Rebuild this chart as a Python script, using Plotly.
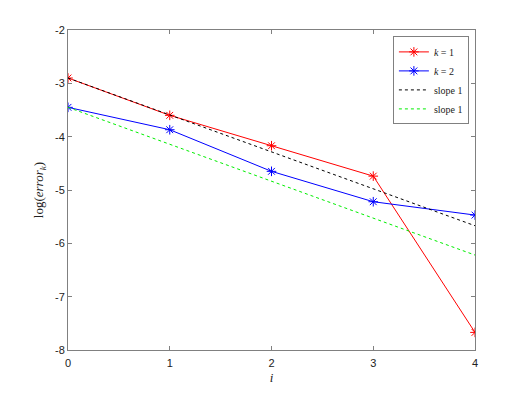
import plotly.graph_objects as go

# data
i_vals = [0, 1, 2, 3, 4]
err_k1 = [-2.90, -3.60, -4.17, -4.74, -7.67]
err_k2 = [-3.45, -3.87, -4.65, -5.22, -5.47]
slope_k1 = [-2.90, -3.59, -4.29, -4.98, -5.67]
slope_k2 = [-3.45, -4.14, -4.84, -5.53, -6.22]

fig = go.Figure()

fig.add_trace(go.Scatter(x=i_vals, y=err_k1, mode='lines+markers', name='<i>k</i> = 1',
                         line=dict(color='red', width=1),
                         marker=dict(symbol='asterisk-open', size=8, color='red',
                                     line=dict(color='red', width=1))))
fig.add_trace(go.Scatter(x=i_vals, y=err_k2, mode='lines+markers', name='<i>k</i> = 2',
                         line=dict(color='blue', width=1),
                         marker=dict(symbol='asterisk-open', size=8, color='blue',
                                     line=dict(color='blue', width=1))))
fig.add_trace(go.Scatter(x=i_vals, y=slope_k1, mode='lines', name='slope 1',
                         line=dict(color='black', width=1, dash='dot')))
fig.add_trace(go.Scatter(x=i_vals, y=slope_k2, mode='lines', name='slope 1',
                         line=dict(color='#00ee00', width=1, dash='dot')))

axis_style = dict(showline=True, linecolor='#808080', linewidth=1, mirror='ticks',
                  ticks='inside', ticklen=4, tickcolor='#808080', showgrid=False,
                  zeroline=False, tickfont=dict(family='Liberation Sans', size=11, color='#222'))

fig.update_xaxes(range=[0, 4], tickvals=[0, 1, 2, 3, 4], ticklabelstandoff=3,
                 title=dict(text='<i>i</i>', font=dict(family='Liberation Serif', size=13, color='#222'),
                            standoff=4),
                 **axis_style)
fig.update_yaxes(range=[-8, -2], tickvals=[-8, -7, -6, -5, -4, -3, -2],
                 ticktext=['-8', '-7', '-6', '-5', '-4', '-3', '-2'],
                 title=dict(text='log(<i>error</i><sub><i>k</i></sub>)',
                            font=dict(family='Liberation Serif', size=13, color='#222'),
                            standoff=8),
                 **axis_style)

# page body has an 8px margin, so shift the margins to land the axes where the reference has them
fig.update_layout(
    width=525, height=394,
    margin=dict(l=60, r=58, t=22, b=52),
    plot_bgcolor='white', paper_bgcolor='white',
    legend=dict(x=0.985, y=0.98, xanchor='right', yanchor='top',
                bgcolor='white', bordercolor='#808080', borderwidth=1,
                font=dict(family='Liberation Serif', size=10, color='#222'),
                tracegroupgap=0, itemwidth=30),
)

fig.write_html("out.html")
